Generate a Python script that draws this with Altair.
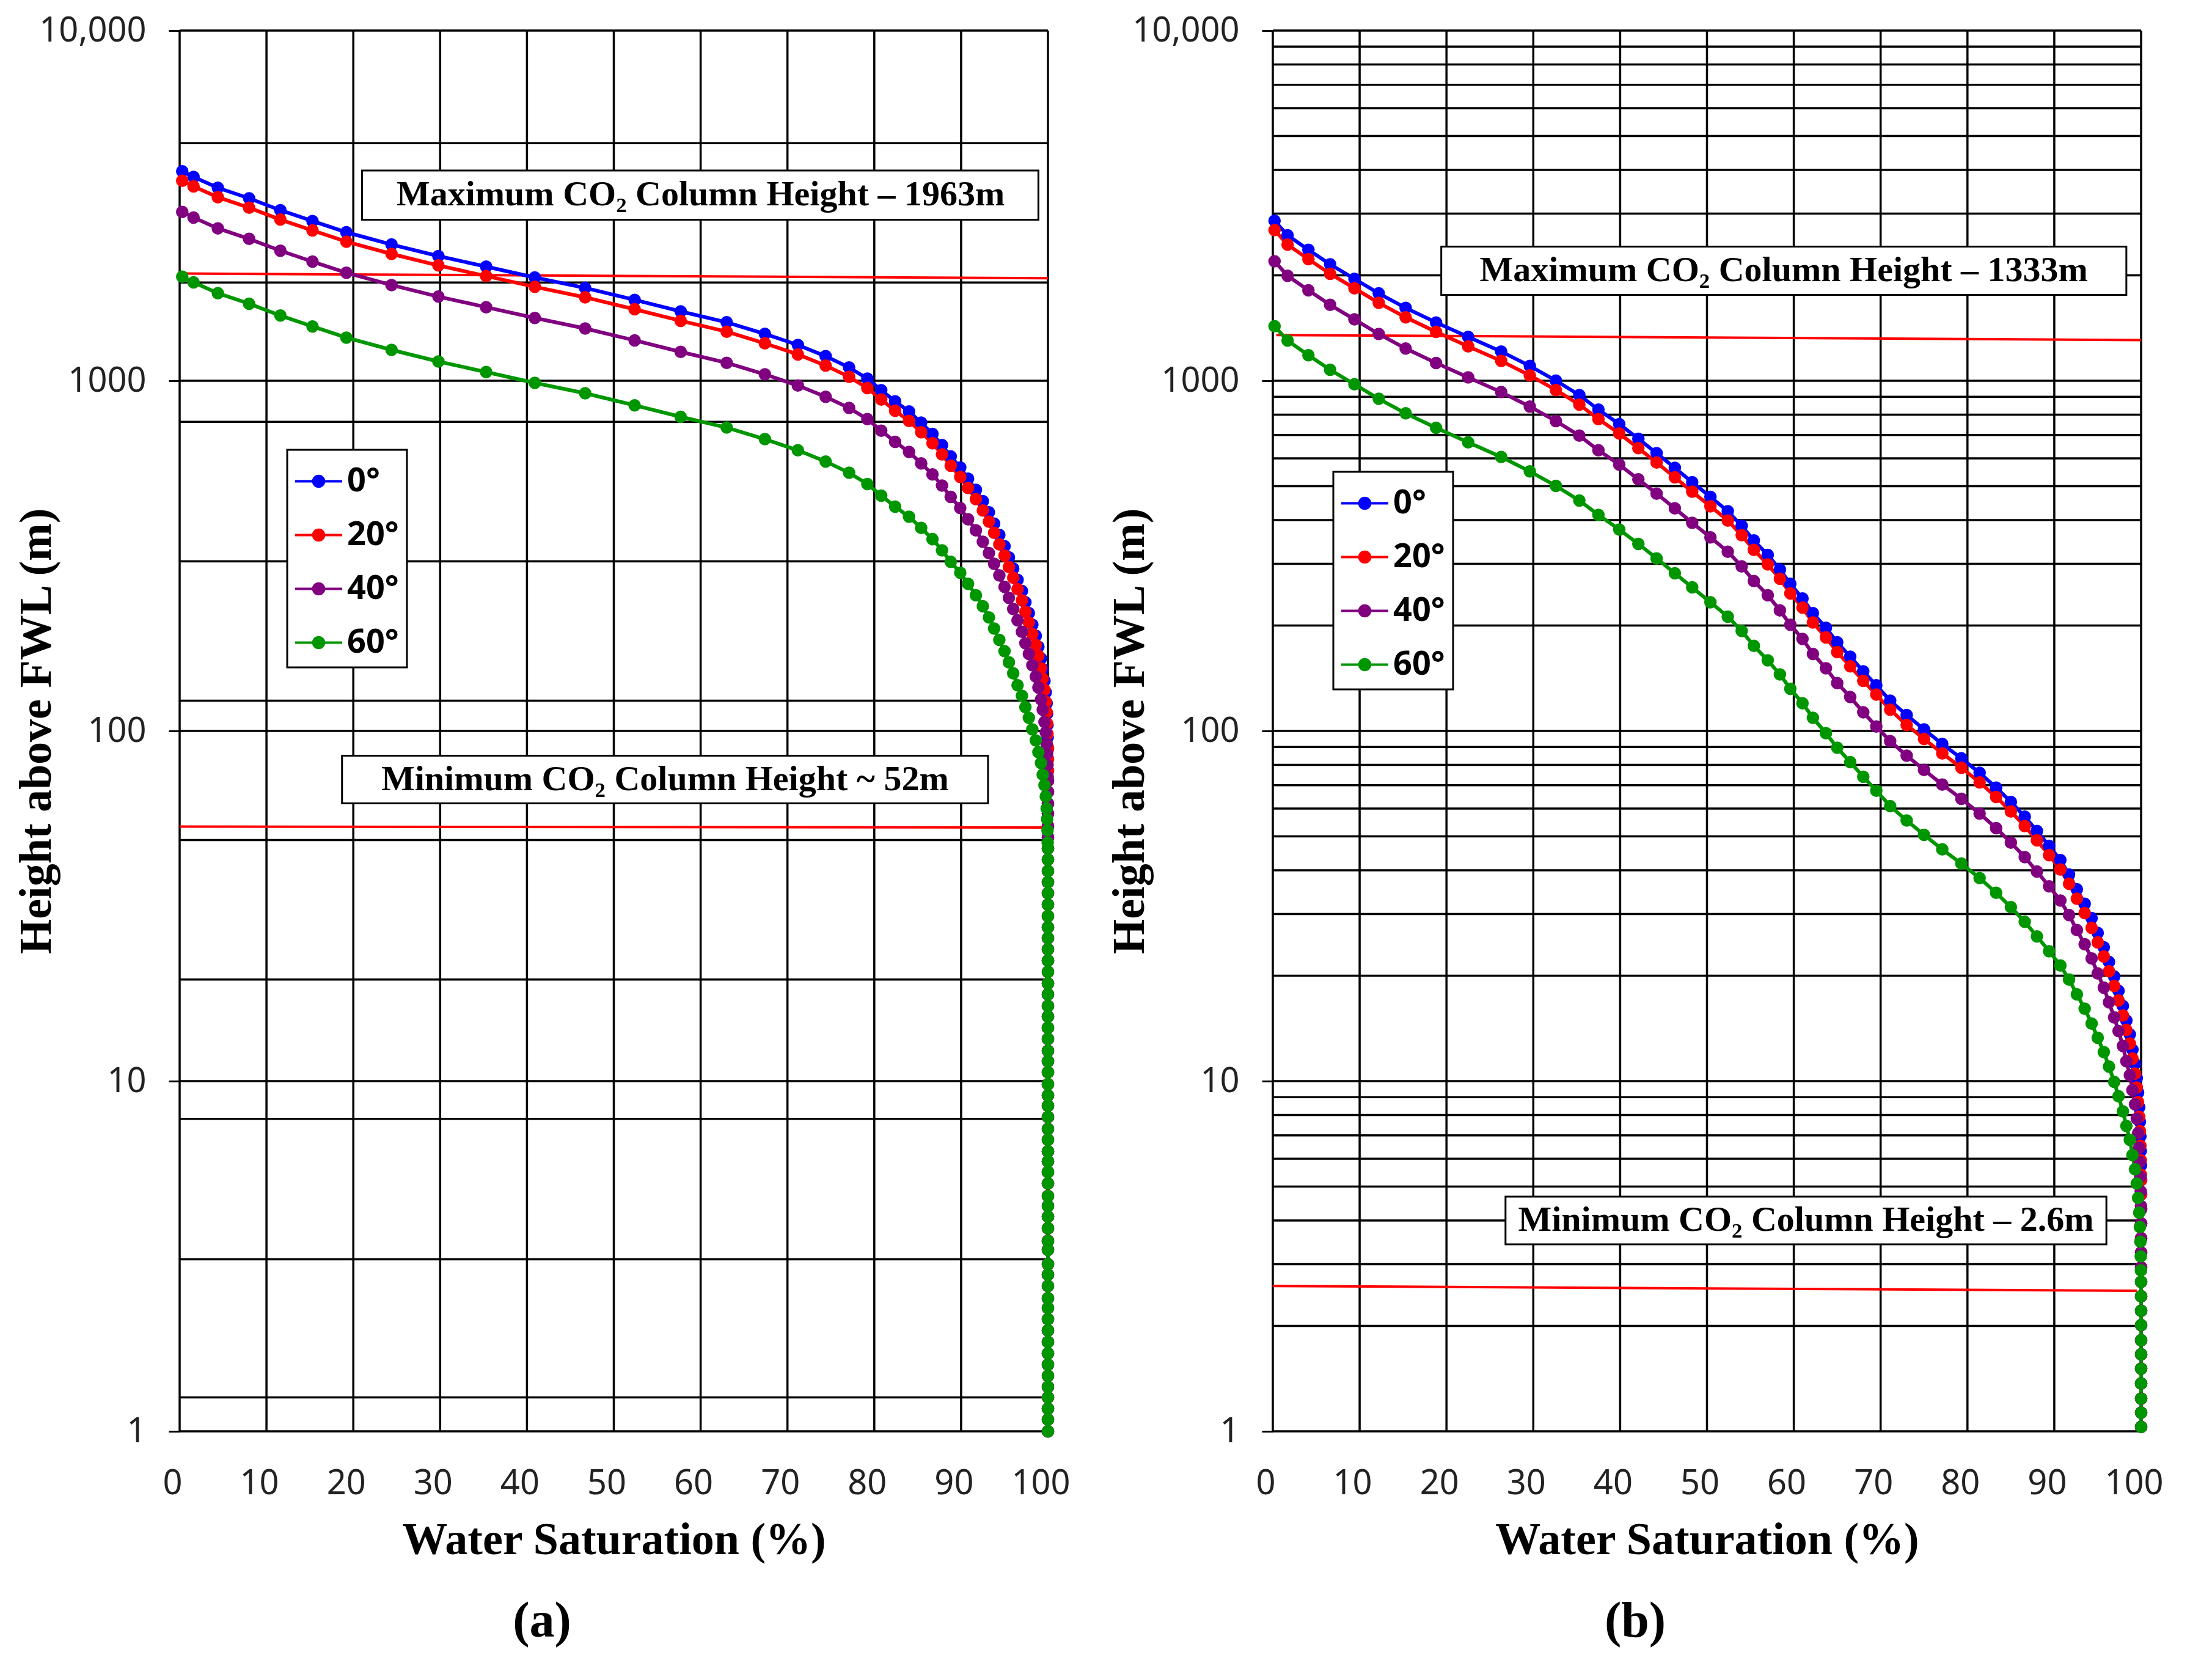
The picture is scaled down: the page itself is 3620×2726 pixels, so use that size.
import altair as alt
import pandas as pd

ANGLES = ["0°", "20°", "40°", "60°"]
COLORS = ["#0000ff", "#ff0000", "#800080", "#009600"]

# ---------- panel (a) ----------
# water saturation (%) of each marker, shared by the four contact angles
sw_a = [0.3, 1.6, 4.4, 8.0, 11.6, 15.3, 19.2, 24.4, 29.8, 35.3, 40.9, 46.7, 52.4,
        57.7, 63.0, 67.4, 71.2, 74.4, 77.1, 79.2, 80.8, 82.4, 84.0, 85.4, 86.7,
        87.8, 88.8, 89.9, 90.8, 91.7, 92.5, 93.2, 93.8, 94.4, 95.0, 95.5, 96.0,
        96.5, 97.0, 97.4, 97.8, 98.2, 98.6, 98.9, 99.2, 99.4, 99.6, 99.75, 99.85,
        99.9, 99.95, 99.97]
h_a = {
    "0°": [3963, 3819, 3556, 3319, 3069, 2858, 2655, 2449, 2270, 2118, 1972, 1841, 1702,
           1578, 1469, 1361, 1265, 1175, 1091, 1014, 940, 873, 817, 759, 705, 655, 608,
           565, 525, 488, 453, 421, 391, 363, 337, 313, 291, 270, 251, 233, 217, 201,
           187, 174, 161, 150, 139, 129, 120, 112, 104, 96],
    "20°": [3725, 3590, 3343, 3120, 2885, 2687, 2496, 2302, 2134, 1991, 1854, 1731, 1600,
            1483, 1381, 1279, 1189, 1105, 1026, 953, 884, 821, 768, 713, 663, 616, 572,
            531, 494, 459, 426, 396, 368, 341, 317, 294, 274, 254, 236, 219, 204, 189,
            176, 164, 151, 141, 131, 121, 113, 105, 98, 90],
    "40°": [3036, 2925, 2724, 2542, 2351, 2189, 2034, 1876, 1739, 1622, 1511, 1410, 1304,
            1209, 1125, 1043, 969, 900, 836, 777, 720, 669, 626, 581, 540, 502, 466,
            433, 402, 374, 347, 322, 300, 278, 258, 240, 223, 207, 192, 178, 166, 154,
            143, 133, 123, 115, 106, 99, 92, 86, 80, 74],
    "60°": [1982, 1910, 1778, 1660, 1535, 1429, 1328, 1225, 1135, 1059, 986, 921, 851,
            789, 735, 681, 633, 588, 546, 507, 470, 437, 409, 380, 353, 328, 304, 283,
            263, 244, 227, 211, 196, 182, 169, 157, 146, 135, 126, 117, 109, 101, 94,
            87, 81, 75, 70, 65, 60, 56, 52, 48],
}
# markers stacked on the 100 % line below each curve
col_a = [89, 83, 77, 72, 67, 62, 58, 53.5, 49.7, 46.2, 42.9, 39.8, 37.0, 34.4, 31.9,
         29.6, 27.5, 25.6, 23.8, 22.1, 20.5, 19.0, 17.7, 16.4, 15.3, 14.2, 13.2, 12.2,
         11.4, 10.6, 9.8, 9.1, 8.5, 7.9, 7.3, 6.8, 6.3, 5.9, 5.5, 5.1, 4.7, 4.4, 4.1,
         3.8, 3.5, 3.3, 3.0, 2.8, 2.6, 2.4, 2.25, 2.09, 1.94, 1.8, 1.67, 1.55, 1.44,
         1.34, 1.25, 1.16, 1.08, 1.0]
grid_h_a = [1, 1.25, 3.1, 7.8, 10, 19.5, 48.8, 100, 122, 305, 763, 1000, 1907, 4768, 10000]
red_a_sw = [[0, 100], [0, 100]]
red_a_h = [[2024, 1963], [53.3, 53.0]]
notes_a = ["Maximum CO₂ Column Height – 1963m", "Minimum CO₂ Column Height ~ 52m"]

# ---------- panel (b) ----------
sw_b = [0.2, 1.7, 4.1, 6.6, 9.4, 12.2, 15.3, 18.8, 22.5, 26.3, 29.6, 32.6, 35.3, 37.5,
        39.9, 42.1, 44.2, 46.3, 48.3, 50.4, 52.4, 54.0, 55.4, 57.0, 58.4, 59.6, 61.0,
        62.2, 63.7, 65.0, 66.5, 68.0, 69.5, 71.1, 73.0, 75.0, 77.1, 79.3, 81.4, 83.3,
        85.0, 86.6, 88.0, 89.4, 90.7, 91.7, 92.6, 93.5, 94.3, 95.0, 95.7, 96.3, 96.9,
        97.4, 97.9, 98.3, 98.7, 99.0, 99.3, 99.5, 99.65, 99.78, 99.86, 99.92, 99.96,
        99.98]
h_b = {
    "0°": [2864, 2603, 2366, 2150, 1954, 1776, 1614, 1467, 1334, 1212, 1102, 1001, 910,
           827, 752, 683, 621, 564, 513, 466, 424, 385, 350, 318, 289, 263, 239, 217,
           197, 179, 163, 148, 135, 122, 111, 101, 91.8, 83.5, 75.9, 68.9, 62.7, 56.9,
           51.8, 47.0, 42.8, 38.9, 35.3, 32.1, 29.2, 26.5, 24.1, 21.9, 19.9, 18.1, 16.4,
           14.9, 13.6, 12.3, 11.2, 10.2, 9.27, 8.42, 7.66, 6.96, 6.32, 5.75],
    "20°": [2692, 2447, 2224, 2021, 1837, 1669, 1517, 1379, 1254, 1139, 1036, 941, 855,
            777, 707, 642, 584, 530, 482, 438, 399, 362, 329, 299, 272, 247, 225, 204,
            185, 168, 153, 139, 127, 115, 104, 94.9, 86.3, 78.5, 71.3, 64.8, 58.9, 53.5,
            48.7, 44.2, 40.2, 36.6, 33.2, 30.2, 27.4, 24.9, 22.7, 20.6, 18.7, 17.0, 15.4,
            14.0, 12.8, 11.6, 10.5, 9.59, 8.71, 7.91, 7.20, 6.54, 5.94, 5.41],
    "40°": [2194, 1994, 1812, 1647, 1497, 1360, 1236, 1124, 1022, 928, 844, 767, 697,
            633, 576, 523, 476, 432, 393, 357, 325, 295, 268, 244, 221, 201, 183, 166,
            151, 137, 125, 113, 103, 93.5, 85.0, 77.4, 70.3, 64.0, 58.1, 52.8, 48.0,
            43.6, 39.7, 36.0, 32.8, 29.8, 27.0, 24.6, 22.4, 20.3, 18.5, 16.8, 15.2, 13.9,
            12.6, 11.4, 10.4, 9.42, 8.58, 7.81, 7.10, 6.45, 5.87, 5.33, 4.84, 4.40],
    "60°": [1432, 1302, 1183, 1075, 977, 888, 807, 734, 667, 606, 551, 501, 455, 414,
            376, 342, 311, 282, 257, 233, 212, 193, 175, 159, 145, 132, 120, 109, 98.5,
            89.5, 81.5, 74.0, 67.5, 61.0, 55.5, 50.5, 45.9, 41.8, 38.0, 34.5, 31.4, 28.5,
            25.9, 23.5, 21.4, 19.5, 17.7, 16.1, 14.6, 13.3, 12.1, 11.0, 9.95, 9.05, 8.2,
            7.45, 6.8, 6.15, 5.6, 5.1, 4.64, 4.21, 3.83, 3.48, 3.16, 2.88],
}
col_b = [5.22, 4.75, 4.31, 3.92, 3.56, 3.24, 2.94, 2.67, 2.43, 2.21, 2.01, 1.82, 1.66,
         1.51, 1.37, 1.24, 1.13, 1.03]
grid_h_b = [m * d for d in (1, 10, 100, 1000) for m in range(1, 10)] + [10000]
red_b_sw = [[0.4, 100], [0, 99.5]]
red_b_h = [[1351, 1306], [2.60, 2.52]]
notes_b = ["Maximum CO₂ Column Height – 1333m", "Minimum CO₂ Column Height – 2.6m"]

# annotation boxes, in data units: (sw left, sw right, h top, h bottom, sw centre, h centre)
boxes_a = [(21.0, 98.9, 3986, 2883, 60.0, 3390), (18.7, 93.1, 85.0, 62.1, 55.9, 72.6)]
boxes_b = [(19.4, 98.3, 2416, 1758, 58.85, 2061), (26.8, 96.0, 4.68, 3.42, 61.4, 4.0)]

# legend swatch: short line with a dot in the middle (both as filled shapes)
SYMBOL = ("M-1,-0.055H1V0.055H-1Z "
          "M-0.28,0A0.28,0.28 0 1,1 0.28,0A0.28,0.28 0 1,1 -0.28,0Z")

X_TITLE = "Water Saturation (%)"
Y_TITLE = "Height above FWL (m)"


def curve_table(sw, heights, column):
    rows = []
    for ang in ANGLES:
        hs = heights[ang]
        pts = list(zip(sw, hs, strict=True)) + [(100.0, c) for c in column if c < hs[-1]]
        for i, (s, h) in enumerate(pts):
            rows.append({"sw": s, "h": h, "angle": ang, "idx": i})
    return pd.DataFrame(rows)


def panel(sw, heights, column, grid_h, red_sw, red_h, notes, boxes, legend_xy, tag):
    curves = curve_table(sw, heights, column)
    xs = alt.Scale(domain=[0, 100], nice=False, zero=False)
    ys = alt.Scale(type="log", domain=[1, 10000], nice=False)
    cs = alt.Scale(domain=ANGLES, range=COLORS)

    x_axis = alt.Axis(values=list(range(0, 101, 10)), grid=False, domain=False, ticks=False,
                      labelFont="Noto Sans", labelFontSize=56, labelColor="#222222",
                      labelPadding=58, labelOffset=-12, labelFlush=False, labelOverlap=False,
                      titleFont="Liberation Serif",
                      titleFontSize=74, titleFontWeight="bold", titleColor="black",
                      titlePadding=29)
    y_axis = alt.Axis(values=[1, 10, 100, 1000, 10000],
                      labelExpr="datum.value >= 10000 ? '10,000' : format(datum.value, 'd')",
                      grid=False, domain=False, tickSize=18, tickWidth=3, tickColor="black",
                      labelFont="Noto Sans", labelFontSize=56, labelColor="#222222",
                      labelPadding=37, labelLimit=400, titleFont="Liberation Serif",
                      titleFontSize=74, titleFontWeight="bold", titleColor="black",
                      titlePadding=-4)
    legend = alt.Legend(
        title=None, orient="none", legendX=legend_xy[0], legendY=legend_xy[1],
        direction="vertical", symbolType=SYMBOL, symbolSize=5929,
        symbolStrokeWidth=0, labelFont="Noto Sans", labelFontSize=54,
        labelFontWeight="bold", labelColor="black", labelOffset=8,
        padding=13, rowPadding=22, fillColor="white", strokeColor="black")

    def X(field):
        return alt.X(field, scale=xs, axis=x_axis, title=X_TITLE)

    def Y(field):
        return alt.Y(field, scale=ys, axis=y_axis, title=Y_TITLE)

    vgrid = alt.Chart(pd.DataFrame({"v": list(range(0, 101, 10))})).mark_rule(
        color="black", strokeWidth=3.5).encode(x=X("v:Q"))
    hgrid = alt.Chart(pd.DataFrame({"g": grid_h})).mark_rule(
        color="black", strokeWidth=3.5).encode(y=Y("g:Q"))

    red_rows = [{"sw": s, "h": h, "k": k}
                for k, (ss, hh) in enumerate(zip(red_sw, red_h)) for s, h in zip(ss, hh)]
    red = alt.Chart(pd.DataFrame(red_rows)).mark_line(color="#ff0000", strokeWidth=4).encode(
        x=X("sw:Q"), y=Y("h:Q"), detail="k:N")

    lines = alt.Chart(curves).mark_line(strokeWidth=6).encode(
        x=X("sw:Q"), y=Y("h:Q"),
        color=alt.Color("angle:N", scale=cs, legend=legend),
        order="idx:Q")

    dots = alt.Chart(curves).mark_circle(size=420, opacity=1).encode(
        x=X("sw:Q"), y=Y("h:Q"),
        color=alt.Color("angle:N", scale=cs, legend=legend))

    note_df = pd.DataFrame([{"x1": b[0], "x2": b[1], "y1": b[2], "y2": b[3],
                             "xc": b[4], "yc": b[5], "label": t}
                            for b, t in zip(boxes, notes)])
    rects = alt.Chart(note_df).mark_rect(fill="white", stroke="black", strokeWidth=3).encode(
        x=X("x1:Q"), x2="x2:Q", y=Y("y1:Q"), y2="y2:Q")
    texts = alt.Chart(note_df).mark_text(
        font="Liberation Serif", fontWeight="bold", fontSize=58, color="black",
        align="center", baseline="middle").encode(
        x=X("xc:Q"), y=Y("yc:Q"), text="label:N")

    return alt.layer(vgrid, hgrid, red, lines, dots, rects, texts).properties(
        width=1421, height=2292,
        title=alt.TitleParams(tag, orient="bottom", anchor="middle", frame="bounds",
                              font="Liberation Serif", fontSize=82, fontWeight="bold",
                              color="black", offset=56))


pa = panel(sw_a, h_a, col_a, grid_h_a, red_a_sw, red_a_h, notes_a, boxes_a, (176, 686), "(a)")
pb = panel(sw_b, h_b, col_b, grid_h_b, red_b_sw, red_b_h, notes_b, boxes_b, (99, 722), "(b)")

chart = alt.hconcat(pa, pb, spacing=60).resolve_scale(color="independent").properties(
    padding={"left": 15, "top": 14, "right": 0, "bottom": 12},
    background="white",
).configure_view(stroke=None).configure_legend(strokeWidth=3)

chart.save("out.html", embed_options={"renderer": "svg", "actions": False})
